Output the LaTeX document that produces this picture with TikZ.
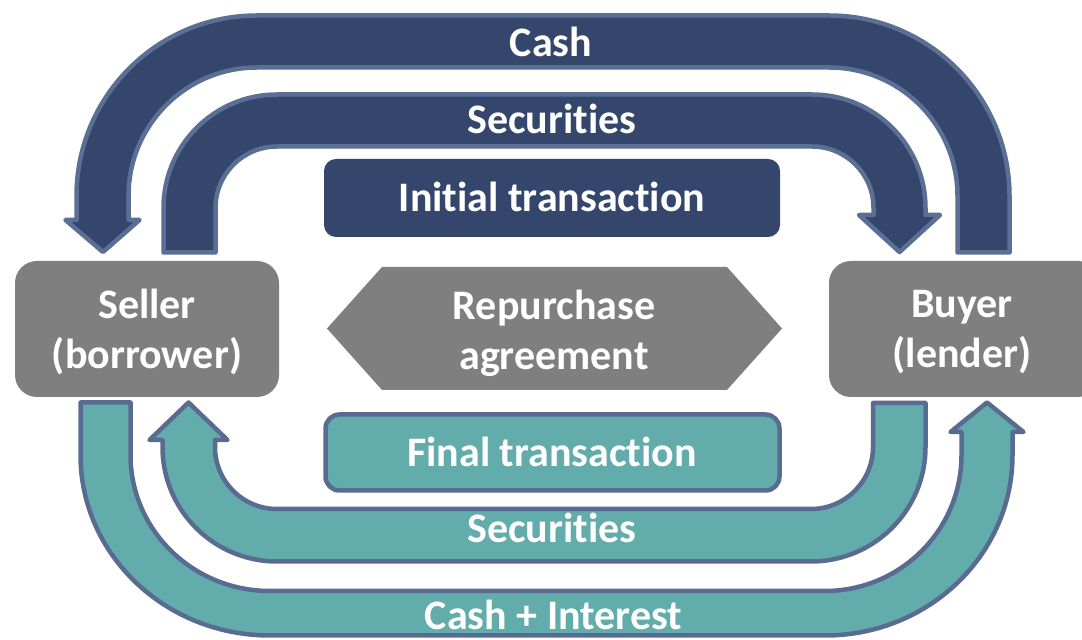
\documentclass[tikz,border=0pt]{standalone}
\usepackage{fontspec}
\setmainfont{Carlito}[Ligatures={NoCommon,NoContextual}]
\definecolor{navy}{RGB}{52,70,107}
\definecolor{navyline}{RGB}{91,110,148}
\definecolor{tealfill}{RGB}{99,172,172}
\definecolor{tealline}{RGB}{90,107,146}
\definecolor{boxgray}{RGB}{127,127,127}
\begin{document}
\begin{tikzpicture}[x=1pt,y=1pt,
  lbl/.style={text=white, font=\fontsize{42}{50}\selectfont\bfseries, align=center, inner sep=0pt},
  navyarrow/.style={fill=navy, draw=navyline, line width=4.5pt, line join=round},
  tealarrow/.style={fill=tealfill, draw=tealline, line width=4.5pt, line join=round},
  party/.style={fill=boxgray, draw=none, rounded corners=22pt},
]
\clip (0,0) rectangle (1082,640);

% Cash: from buyer over the top to seller
\draw[navyarrow] (957.5,387.5) -- (957.5,444)
  arc[start angle=0,end angle=90,radius=128.5] -- (257,572.5)
  arc[start angle=90,end angle=180,radius=128.5] -- (128.5,420)
  -- (139.5,420) -- (103,388) -- (65.5,420) -- (76.5,420) -- (76.5,444)
  arc[start angle=180,end angle=90,radius=180.5] -- (829,624.5)
  arc[start angle=90,end angle=0,radius=180.5] -- (1009.5,387.5) -- cycle;

% Securities: from seller over the top to buyer
\draw[navyarrow] (163.5,387.5) -- (163.5,432)
  arc[start angle=180,end angle=90,radius=113.5] -- (812,545.5)
  arc[start angle=90,end angle=0,radius=113.5] -- (925.5,425)
  -- (940,425) -- (899.5,388) -- (859,425) -- (873.5,425) -- (873.5,432)
  arc[start angle=0,end angle=90,radius=61.5] -- (277,493.5)
  arc[start angle=90,end angle=180,radius=61.5] -- (215.5,387.5) -- cycle;

% Securities returned: from buyer under the bottom to seller
\draw[tealarrow] (873,237) -- (873,193)
  arc[start angle=0,end angle=-90,radius=62] -- (277,131)
  arc[start angle=270,end angle=180,radius=62] -- (215,200)
  -- (227.5,200) -- (188.5,237.5) -- (149.5,200) -- (162.5,200) -- (162.5,193)
  arc[start angle=180,end angle=270,radius=114.5] -- (811,78.5)
  arc[start angle=270,end angle=360,radius=114.5] -- (925.5,237) -- cycle;

% Cash + interest: from seller under the bottom to buyer
\draw[tealarrow] (80.5,237.5) -- (80.5,185)
  arc[start angle=180,end angle=270,x radius=189.5,y radius=180.5] -- (825,4.5)
  arc[start angle=270,end angle=360,x radius=187.5,y radius=180.5] -- (1012.5,208)
  -- (1023.5,208) -- (987,237.5) -- (950.5,208) -- (961.5,208) -- (961.5,185)
  arc[start angle=0,end angle=-90,x radius=136.5,y radius=136] -- (270,49)
  arc[start angle=270,end angle=180,x radius=139.5,y radius=136] -- (130.5,237.5) -- cycle;

% parties
\fill[party] (15,243) rectangle (279,379);
\fill[party] (829,243) rectangle (1100,379);
\node[lbl] (seller) at (147,308) {Seller\\(borrower)};
\node[lbl] (buyer) at (962,308) {Buyer\\(lender)};

% centre blocks
\fill[navy, rounded corners=12pt] (324,403) rectangle (780,481);
\node[lbl, anchor=base] (initial) at (552,428) {Initial transaction};

\fill[boxgray] (327,311.5) -- (382,373) -- (727,373) -- (782,311.5) -- (727,250) -- (382,250) -- cycle;
\node[lbl] (repo) at (554,307) {Repurchase\\agreement};

\draw[fill=tealfill, draw=tealline, line width=4.5pt, rounded corners=14pt] (325.5,149.5) rectangle (779.5,225.5);
\node[lbl, anchor=base] (final) at (552,173) {Final transaction};

% arrow labels
\node[lbl, anchor=base] (cashlbl) at (551,583) {Cash};
\node[lbl, anchor=base] (seclbl) at (552,506) {Securities};
\node[lbl, anchor=base] (secback) at (552,97) {Securities};
\node[lbl, anchor=base] (cashint) at (553.5,10) {Cash + Interest};
\end{tikzpicture}
\end{document}
